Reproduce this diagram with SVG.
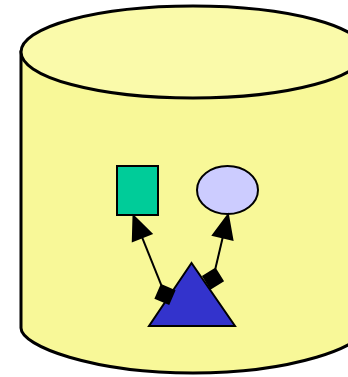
<svg xmlns="http://www.w3.org/2000/svg" width="348" height="377" viewBox="0 0 348 377">
<style>
.o{stroke:#000;stroke-width:3}
.n{stroke:#000;stroke-width:2}
.e{stroke:#000;stroke-width:2;fill:none}
.h{fill:#000;stroke:#000;stroke-width:2}
</style>
<rect width="348" height="377" fill="#fff"/>
<g id="cylinder">
<path class="o" fill="#f8f898" d="M21,52 L21,328 C21,346 93,373 193,373 C293,373 365,346 365,328 L365,52 Z"/>
<ellipse class="o" fill="#fafaaa" cx="193" cy="52" rx="172" ry="46"/>
</g>
<g id="box">
<rect class="n" fill="#00cc99" x="117" y="166" width="41" height="49"/>
</g>
<g id="oval">
<ellipse class="n" fill="#ccccff" cx="227.5" cy="190" rx="30.5" ry="24"/>
</g>
<g id="triangle">
<polygon class="n" fill="#3333cc" points="191.5,263 149,326 235,326"/>
</g>
<g id="connectors">
<line class="e" x1="161.3" y1="285.2" x2="142.1" y2="237.3"/>
<polygon class="h" points="133.5,216 151.4,233.6 132.8,241"/>
<polygon class="h" points="161.3,285.2 174.3,290.8 168.7,303.8 155.7,298.2"/>
<line class="e" x1="215.3" y1="269" x2="222.7" y2="237.4"/>
<polygon class="h" points="228,215 232.4,239.7 213,235.1"/>
<polygon class="h" points="215.3,269 222.7,281 210.7,288.4 203.3,276.4"/>
</g>
</svg>
